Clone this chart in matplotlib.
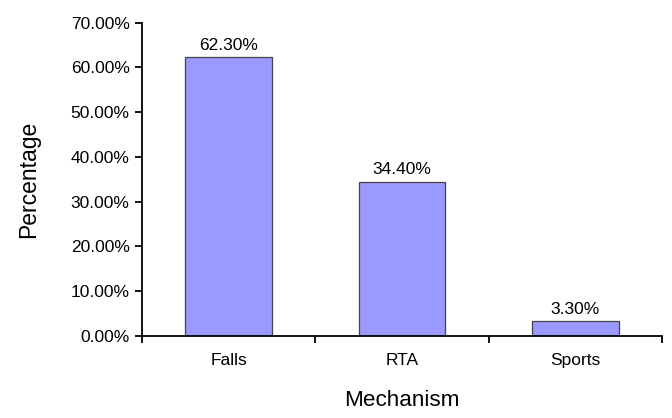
import matplotlib
matplotlib.use("Agg")
import matplotlib.pyplot as plt
from matplotlib.ticker import FuncFormatter, FixedLocator

categories = ["Falls", "RTA", "Sports"]
values = [62.3, 34.4, 3.3]
yticks = [0, 10, 20, 30, 40, 50, 60, 70]

plt.rcParams['font.family'] = ['Liberation Sans', 'DejaVu Sans']

fig = plt.figure(figsize=(6.72, 4.18), dpi=100)
ax = fig.add_axes([142 / 672, 1 - 336 / 418, 520 / 672, 313.3 / 418])

x = list(range(len(categories)))
ax.bar(x, values, width=0.5, color="#9999FF", edgecolor="#444444", linewidth=0.9, zorder=2)
for xi, v in zip(x, values):
    ax.annotate(f"{v:.2f}%", (xi, v), xytext=(0, 5.5), textcoords="offset points",
                ha="center", va="baseline", fontsize=12.5)

ax.set_xlim(-0.5, len(categories) - 0.5)
ax.set_ylim(0, 70)
ax.set_yticks(yticks)
ax.yaxis.set_major_formatter(FuncFormatter(lambda v, p: f"{v:.2f}%"))
ax.set_xticks(x)
ax.set_xticklabels(categories)
ax.xaxis.set_minor_locator(FixedLocator([i - 0.5 for i in range(len(categories) + 1)]))
ax.tick_params(axis="x", which="major", length=0, pad=12, labelsize=12.5)
ax.tick_params(axis="x", which="minor", length=5, width=1.3, direction="out")
ax.tick_params(axis="y", length=5, width=1.3, direction="out", labelsize=12.5, pad=4)

for s in ["top", "right"]:
    ax.spines[s].set_visible(False)
for s in ["left", "bottom"]:
    ax.spines[s].set_linewidth(1.3)

ax.set_xlabel("Mechanism", fontsize=16.2, labelpad=16)
ax.set_ylabel("Percentage", fontsize=16.5, labelpad=22)

fig.savefig("out.png", dpi=100)
